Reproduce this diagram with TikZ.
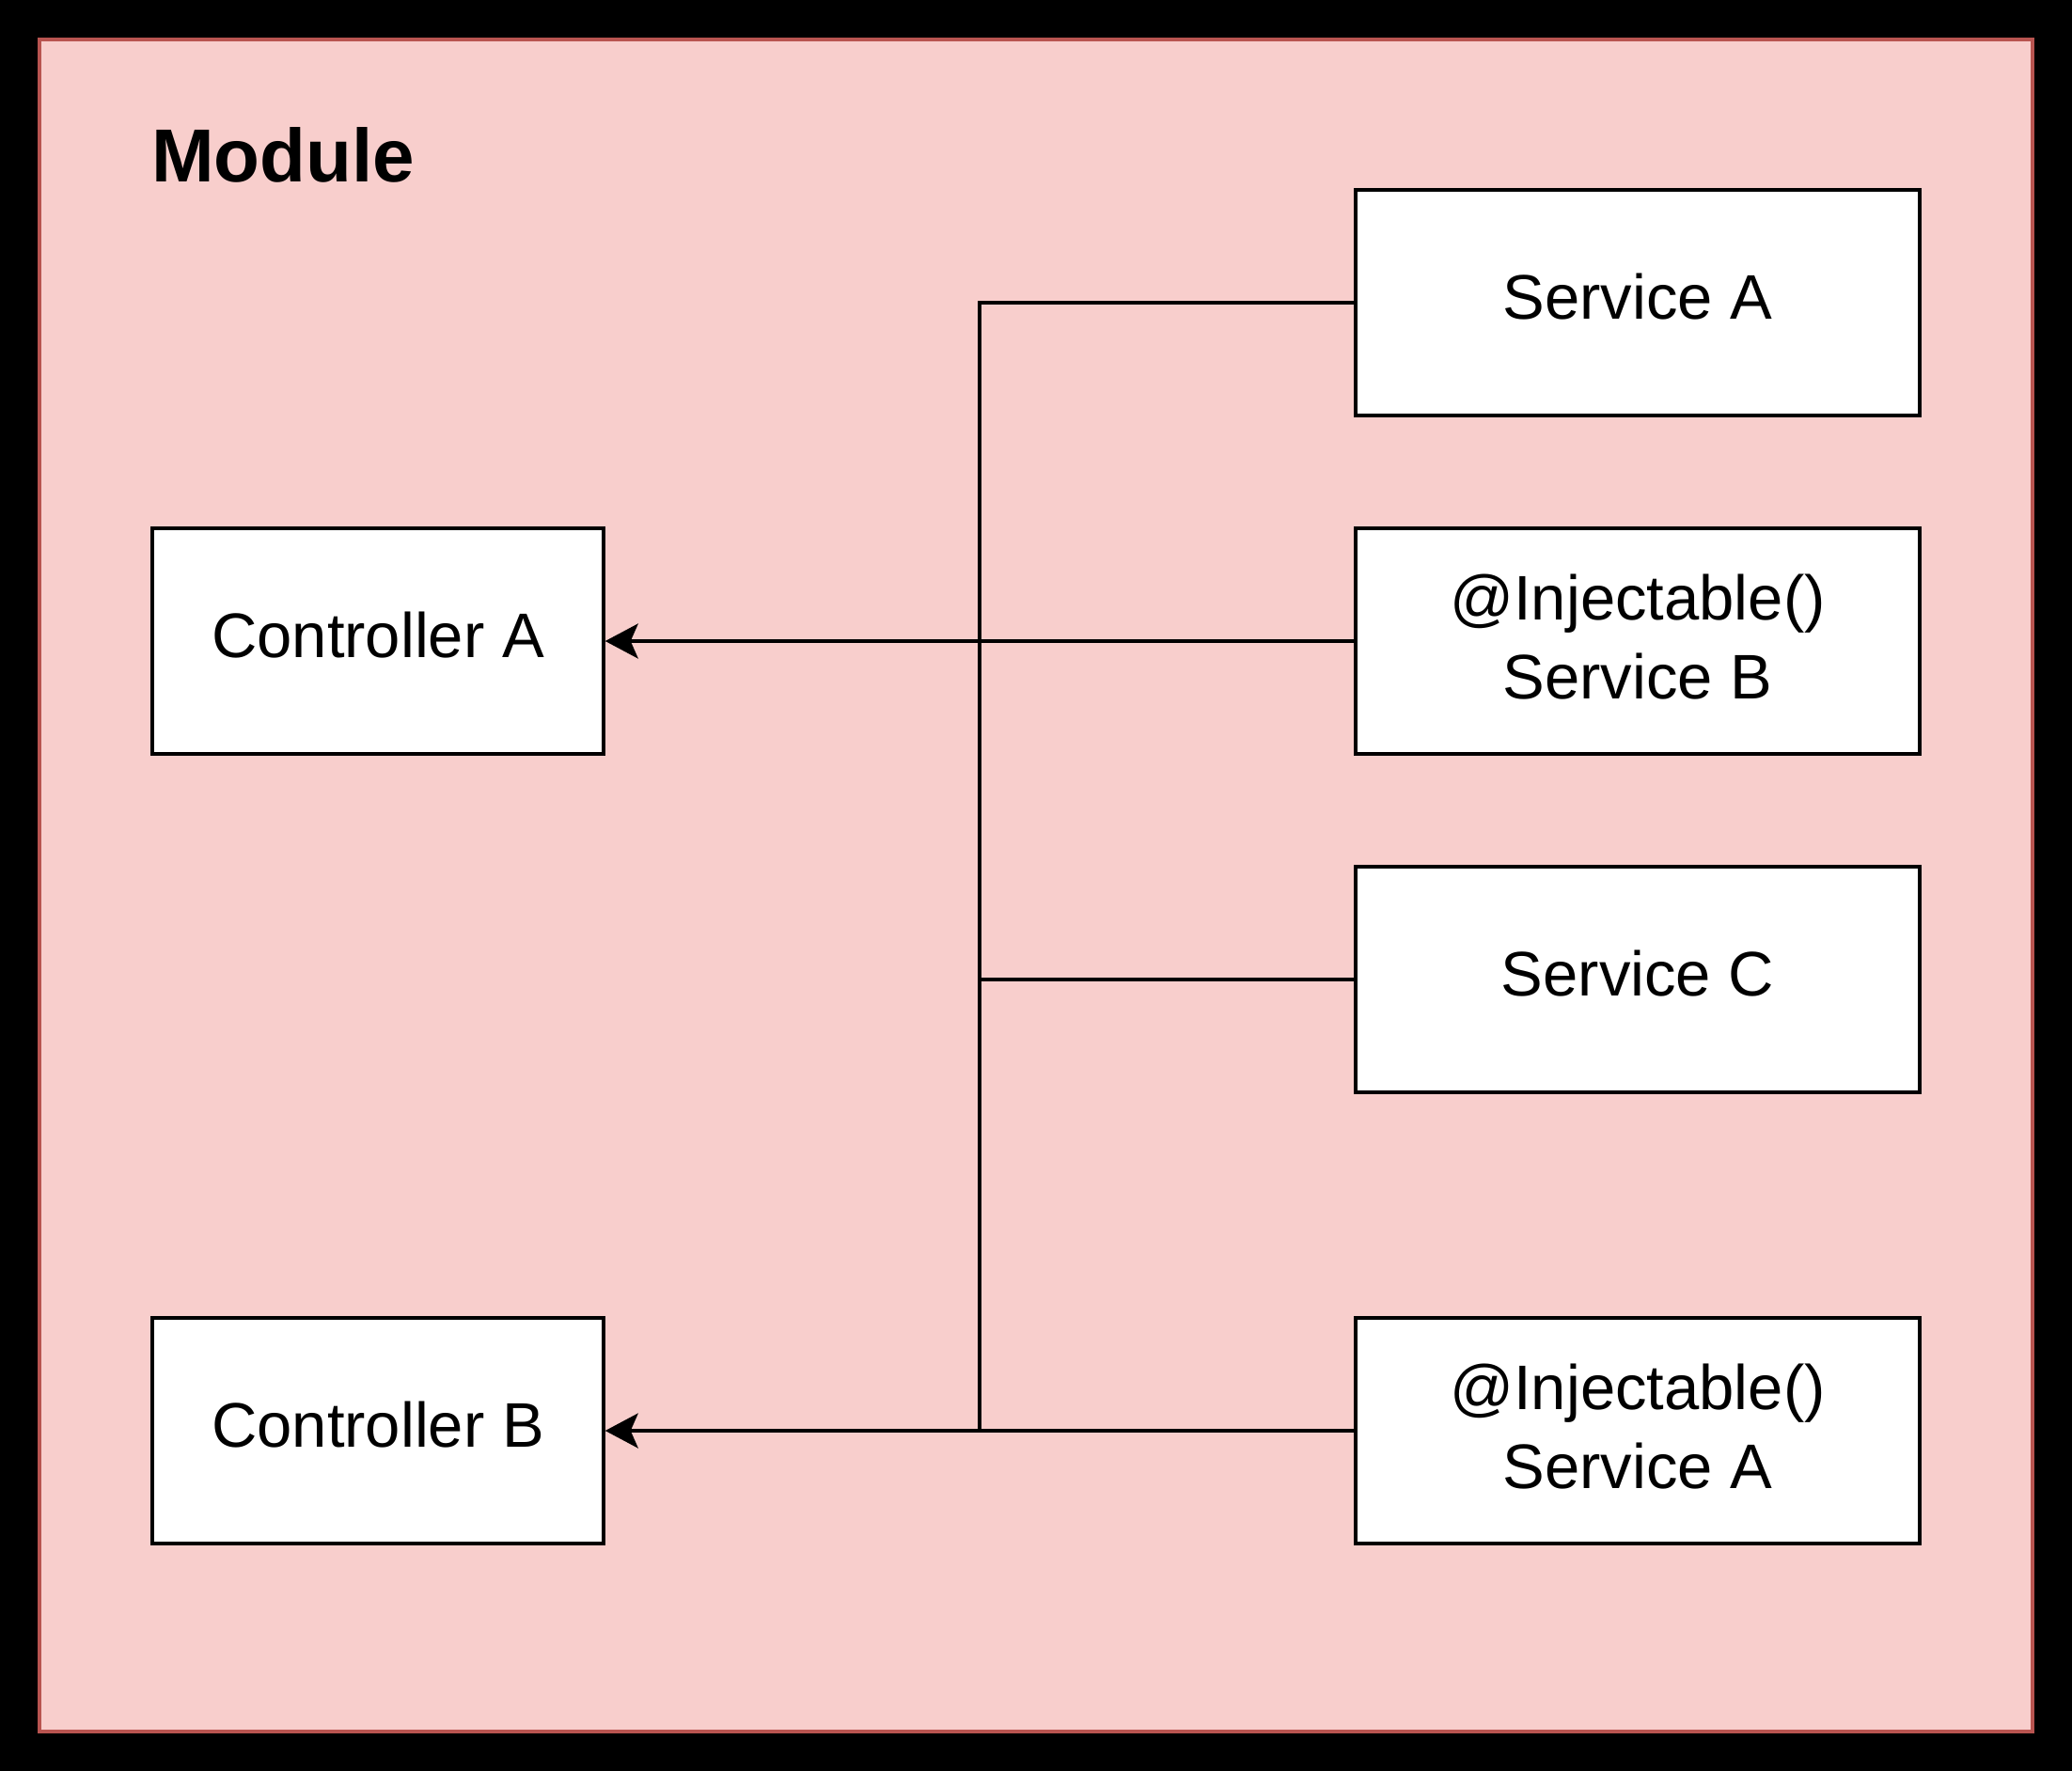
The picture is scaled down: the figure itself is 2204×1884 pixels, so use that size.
\documentclass[tikz,border=0pt]{standalone}
\usepackage{fontspec}
\setmainfont{Liberation Sans}
\usetikzlibrary{arrows.meta}
\definecolor{modfill}{HTML}{F8CECC}
\definecolor{moddraw}{HTML}{B85450}
\tikzset{
  box/.style={draw=black, fill=white, line width=3.5pt, inner sep=0pt,
    font=\fontsize{67}{84}\selectfont, align=center},
  ctrl/.style={box, minimum width=480pt, minimum height=240pt, text height=50pt, text depth=16pt},
  svc/.style={box, minimum width=600pt, minimum height=240pt, text height=50pt, text depth=16pt},
  svc2/.style={box, minimum width=600pt, minimum height=240pt, text height=134pt, text depth=12pt},
  wire/.style={line width=3.5pt},
  arr/.style={wire, -{Stealth[length=35pt, width=37pt, inset=8pt]}}
}
\begin{document}
\begin{tikzpicture}[x=1pt, y=-1pt]
\fill[black] (0,0) rectangle (2204,1884);
\useasboundingbox (0,0) rectangle (2204,1884);
\draw[draw=moddraw, fill=modfill, line width=4pt] (42,42) rectangle (2162,1842);
\node[anchor=base west, inner sep=0pt, font=\fontsize{80}{96}\selectfont\bfseries] (title) at (161,193) {Module};

\node[ctrl] (ca) at (402,682) {Controller A};
\node[ctrl] (cb) at (402,1522) {Controller B};
\node[svc] (sa) at (1742,322) {Service A};
\node[svc2] (sb) at (1742,682) {@Injectable()\\Service B};
\node[svc] (sc) at (1742,1042) {Service C};
\node[svc2] (sa2) at (1742,1522) {@Injectable()\\Service A};

\coordinate (jt) at (1042,322);
\coordinate (jb) at (1042,1522);

\draw[wire] (sa.west) -- (jt) -- (jb);
\draw[wire] (sc.west) -- (sc.west -| jt);
\draw[arr] (sb.west) -- (ca.east);
\draw[arr] (sa2.west) -- (cb.east);
\end{tikzpicture}
\end{document}
